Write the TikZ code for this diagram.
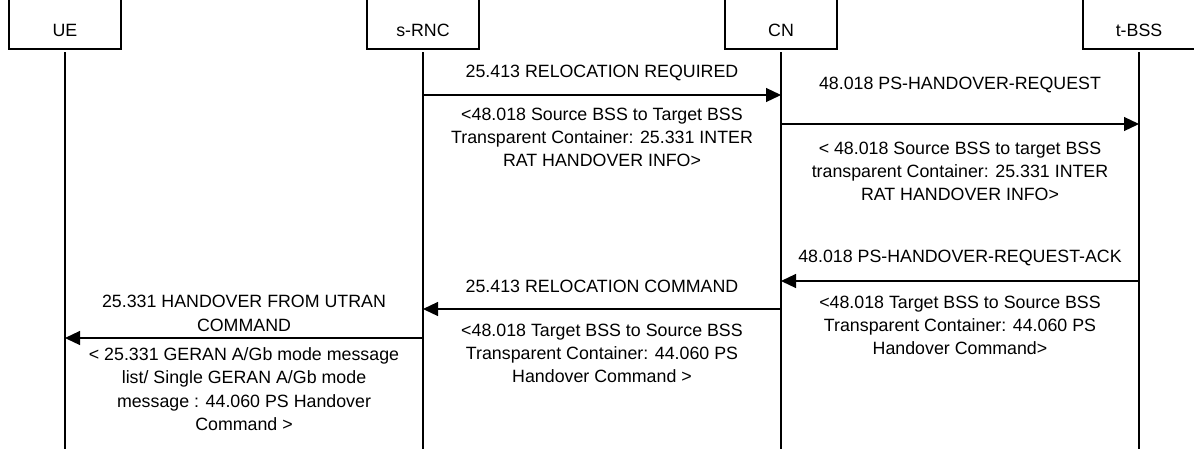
\documentclass[tikz,border=0pt]{standalone}
\usepackage{fontspec}
\setmainfont{Liberation Sans}
\usepackage{tikz}
\usetikzlibrary{arrows.meta,positioning}

\tikzset{
	every node/.style={font=\fontsize{17.8}{23.3}\selectfont, inner sep=0pt},
	note/.style={align=center},
	life/.style={line width=1.2pt},
	msg/.style={line width=1.2pt,-{Triangle[length=15pt,width=14pt]}}
}

\begin{document}
\begin{tikzpicture}[x=1pt,y=-1pt]
		\useasboundingbox (0,0) rectangle (1194,448);
		% entities
		\foreach \n/\t/\x in {ue/UE/65, srnc/s-RNC/423, cn/CN/781, tbss/t-BSS/1139}{
			\node (\n) at (\x,30) {\t};
			\draw[life] (\x-56,-3) |- (\x+56,49) -- (\x+56,-3);
			\coordinate (\n end) at (\x,450);
			\draw[life] (\n |- 0,52) -- (\n end);
		}
		% messages
		\draw[msg] (srnc |- 0,95) -- (cn |- 0,95)
			node[note, midway, above=14pt] (relreq) {25.413 RELOCATION REQUIRED}
			node[note, midway, below=12pt] (relreqc) {<48.018 Source BSS to Target BSS\\Transparent Container: 25.331 INTER\\RAT HANDOVER INFO>};
		\draw[msg] (cn |- 0,124) -- (tbss |- 0,124)
			node[note, midway, above=31pt] (horeq) {48.018 PS-HANDOVER-REQUEST}
			node[note, midway, below=17pt] (horeqc) {< 48.018 Source BSS to target BSS\\transparent Container: 25.331 INTER\\RAT HANDOVER INFO>};
		\draw[msg] (tbss |- 0,281) -- (cn |- 0,281)
			node[note, midway, above=15pt] (hoack) {48.018 PS-HANDOVER-REQUEST-ACK}
			node[note, midway, below=14pt] (hoackc) {<48.018 Target BSS to Source BSS\\Transparent Container: 44.060 PS\\Handover Command>};
		\draw[msg] (cn |- 0,309) -- (srnc |- 0,309)
			node[note, midway, above=16pt] (relcmd) {25.413 RELOCATION COMMAND}
			node[note, midway, below=14pt] (relcmdc) {<48.018 Target BSS to Source BSS\\Transparent Container: 44.060 PS\\Handover Command >};
		\draw[msg] (srnc |- 0,338) -- (ue |- 0,338)
			node[note, midway, above=6pt] (hocmd) {25.331 HANDOVER FROM UTRAN\\COMMAND}
			node[note, midway, below=9pt] (hocmdc) {< 25.331 GERAN A/Gb mode message\\list/ Single GERAN A/Gb mode\\message : 44.060 PS Handover\\Command >};
\end{tikzpicture}
\end{document}
